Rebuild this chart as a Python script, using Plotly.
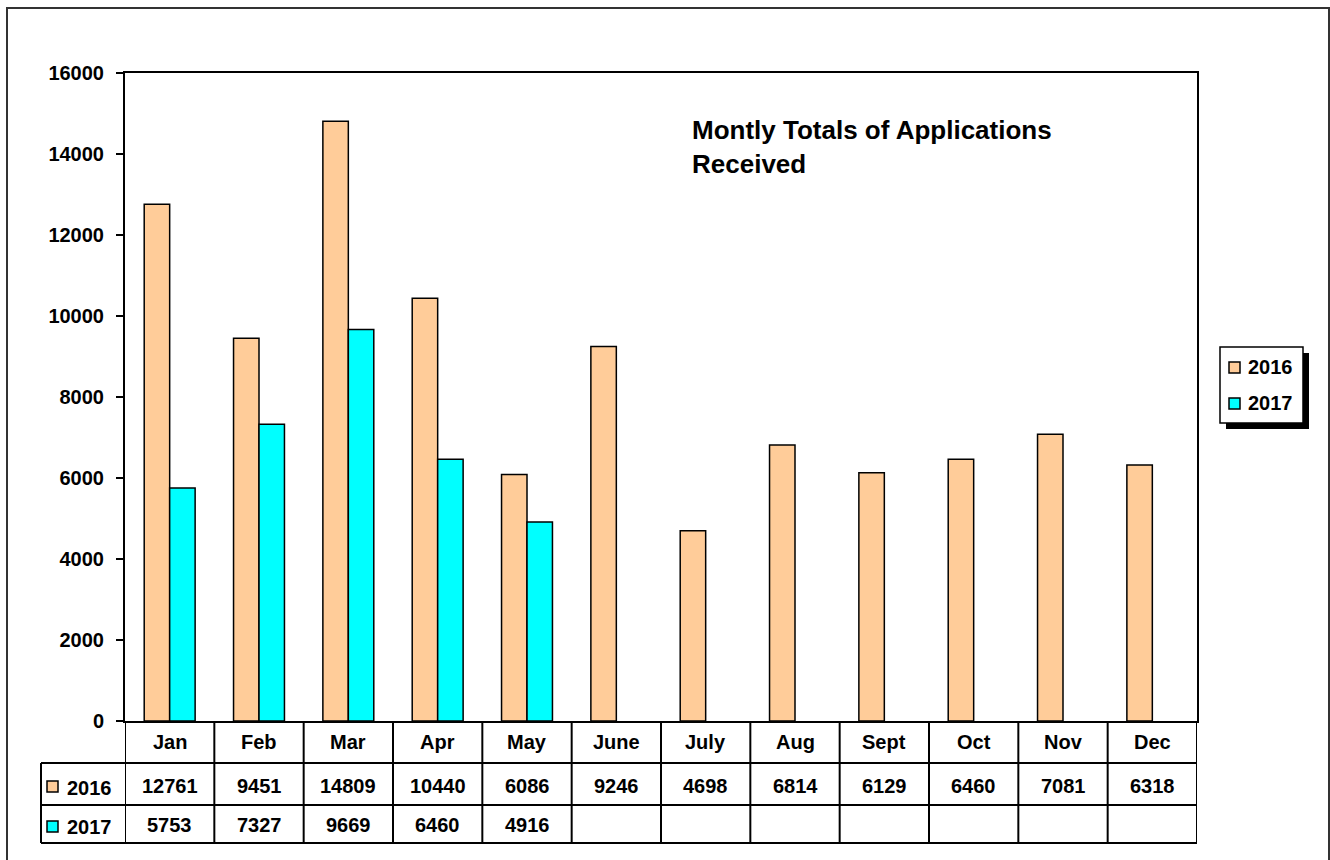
import plotly.graph_objects as go

months = ["Jan", "Feb", "Mar", "Apr", "May", "June", "July", "Aug", "Sept", "Oct", "Nov", "Dec"]
values_2016 = [12761, 9451, 14809, 10440, 6086, 9246, 4698, 6814, 6129, 6460, 7081, 6318]
values_2017 = [5753, 7327, 9669, 6460, 4916]
series_names = ["2016", "2017"]
colors = ["#FFCC99", "#00FFFF"]
title_text = "Montly Totals of Applications<br>Received"

W, H = 1330, 860
L, R, T, B = 125, 133, 73, 139
PW, PH = W - L - R, H - T - B
FONT = "Liberation Sans, Arial, sans-serif"


def px(x):
    return (x - L) / PW


def py(y):
    return (H - B - y) / PH


def bfont(size=20):
    return dict(family=FONT, size=size, color="black", weight="bold")


fig = go.Figure()
for name, vals, col in zip(series_names, [values_2016, values_2017], colors):
    fig.add_trace(go.Bar(
        x=months[:len(vals)], y=vals, name=name,
        marker=dict(color=col, line=dict(color="black", width=1.5)),
        showlegend=False,
    ))

shapes = []
annotations = []
# outer chart border
shapes.append(dict(type="rect", xref="paper", yref="paper", x0=px(7), x1=px(1329), y0=py(875), y1=py(8),
                   line=dict(color="#333333", width=2), layer="below"))
# table vertical lines
for i in range(len(months) + 1):
    shapes.append(dict(type="line", xref="x", yref="paper", x0=i - 0.5, x1=i - 0.5, y0=py(843), y1=0,
                       line=dict(color="black", width=2)))
# table horizontal lines
for yy in [763, 805, 843]:
    shapes.append(dict(type="line", xref="paper", yref="paper", x0=px(41), x1=1, y0=py(yy), y1=py(yy),
                       line=dict(color="black", width=2)))
shapes.append(dict(type="line", xref="paper", yref="paper", x0=px(41), x1=px(41), y0=py(843), y1=py(763),
                   line=dict(color="black", width=2)))

# month header
for m in months:
    annotations.append(dict(x=m, y=py(742), xref="x", yref="paper", text=m, showarrow=False,
                            font=bfont(), xanchor="center", yanchor="middle"))
# rows
row_y = [786, 825]
sq_y = [(781, 792), (821, 832)]
for name, vals, col, ry, (sy0, sy1) in zip(series_names, [values_2016, values_2017], colors, row_y, sq_y):
    for m, v in zip(months, vals):
        annotations.append(dict(x=m, y=py(ry), xref="x", yref="paper", text=str(v), showarrow=False,
                                font=bfont(), xanchor="center", yanchor="middle"))
    shapes.append(dict(type="rect", xref="paper", yref="paper", x0=px(47), x1=px(58), y0=py(sy1), y1=py(sy0),
                       fillcolor=col, line=dict(color="black", width=1.5)))
    annotations.append(dict(x=px(65), y=py(ry + 2), xref="paper", yref="paper", text=name, showarrow=False,
                            font=bfont(), xanchor="left", yanchor="middle"))

# legend with shadow
shapes.append(dict(type="rect", xref="paper", yref="paper", x0=px(1226), x1=px(1309), y0=py(429), y1=py(353),
                   fillcolor="black", line=dict(color="black", width=0)))
shapes.append(dict(type="rect", xref="paper", yref="paper", x0=px(1220), x1=px(1303), y0=py(423), y1=py(347),
                   fillcolor="white", line=dict(color="black", width=1.5)))
leg_y = [(362, 373, 367), (398, 409, 403)]
for name, col, (a, b, c) in zip(series_names, colors, leg_y):
    shapes.append(dict(type="rect", xref="paper", yref="paper", x0=px(1229), x1=px(1240), y0=py(b), y1=py(a),
                       fillcolor=col, line=dict(color="black", width=1.5)))
    annotations.append(dict(x=px(1246), y=py(c), xref="paper", yref="paper", text=name, showarrow=False,
                            font=bfont(), xanchor="left", yanchor="middle"))

# title
annotations.append(dict(x=px(690), y=py(113), xref="paper", yref="paper", text=title_text, showarrow=False,
                        align="left", font=bfont(26),
                        xanchor="left", yanchor="top"))

fig.update_layout(
    width=W, height=H,
    margin=dict(l=L, r=R, t=T, b=B, pad=0),
    paper_bgcolor="white", plot_bgcolor="white",
    barmode="group", bargap=0.43, bargroupgap=0,
    font=bfont(),
    shapes=shapes, annotations=annotations,
    showlegend=False,
)
fig.update_xaxes(type="category", categoryorder="array", categoryarray=months, range=[-0.5, 11.5],
                 showticklabels=False, ticks="", showgrid=False, zeroline=False,
                 showline=True, linecolor="black", linewidth=2, mirror=True)
fig.update_yaxes(range=[0, 16000], dtick=2000, tickformat="d", showgrid=False, zeroline=False,
                 ticks="outside", ticklen=7, tickwidth=2, tickcolor="black", ticklabelstandoff=8,
                 showline=True, linecolor="black", linewidth=2, mirror=True,
                 tickfont=bfont())

fig.write_html("out.html", config={"displayModeBar": False},
               post_script="document.body.style.margin='0';")
